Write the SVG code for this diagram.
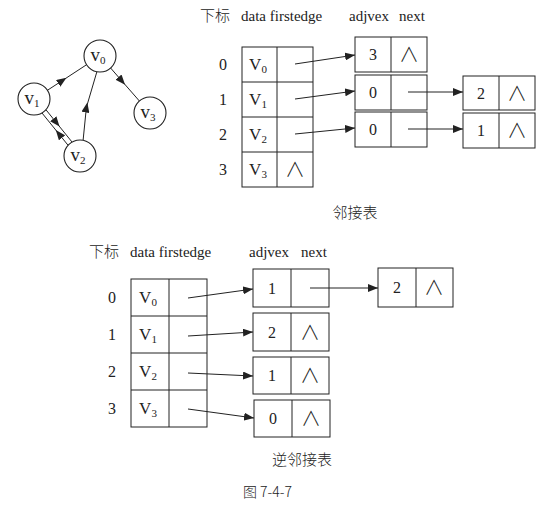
<svg xmlns="http://www.w3.org/2000/svg" width="552" height="505" viewBox="0 0 552 505">
<defs>
<style>
text{font-family:"Liberation Serif","Noto Sans CJK SC",serif;fill:#222;}
.h{font-size:15px;}
.zh{font-family:"Noto Sans CJK SC",sans-serif;font-weight:300;}
.n{font-size:16px;text-anchor:middle;}
.nl{font-size:20px;text-anchor:middle;font-family:"Noto Sans CJK SC",sans-serif;font-weight:300;}
.v{font-size:17px;text-anchor:middle;}
.gv{font-size:19px;text-anchor:middle;}
.s{font-size:11px;}
.cap{font-size:15px;text-anchor:middle;font-family:"Noto Sans CJK SC",sans-serif;font-weight:300;}
.box{fill:#fff;stroke:#222;stroke-width:1;}
.ln{fill:none;stroke:#222;stroke-width:1;}
.c{fill:#fff;stroke:#222;stroke-width:1.1;}
</style>
<marker id="ah" viewBox="0 0 10 8" refX="10" refY="4" markerWidth="10" markerHeight="8" markerUnits="userSpaceOnUse" orient="auto">
<path d="M0,0 L10,4 L0,8 z" fill="#222"/>
</marker>
<marker id="am" viewBox="0 0 10 8" refX="5" refY="4" markerWidth="10" markerHeight="8" markerUnits="userSpaceOnUse" orient="auto">
<path d="M0,0 L10,4 L0,8 z" fill="#222"/>
</marker>
</defs>
<rect width="552" height="505" fill="#fff"/>

<g id="graph-edges">
<path class="ln" d="M47.4,90.3 L62.3,80.6 L86.6,64.7" marker-mid="url(#am)"/>
<path class="ln" d="M110.6,68 L121.8,80.9 L139.4,101" marker-mid="url(#am)"/>
<path class="ln" d="M83.1,140.3 L86.4,107.4 L96.9,71.7" marker-mid="url(#am)"/>
<path class="ln" d="M46,109.8 L56.4,122.7 L72,142" marker-mid="url(#am)"/>
<path class="ln" d="M68,145.2 L58.9,133.9 L42,113" marker-mid="url(#am)"/>
</g>
<g id="v0"><circle class="c" cx="100" cy="56" r="16"/><text class="gv" x="98" y="61">v<tspan class="s" dy="3">0</tspan></text></g>
<g id="v1"><circle class="c" cx="34" cy="99" r="16"/><text class="gv" x="32" y="104">v<tspan class="s" dy="3">1</tspan></text></g>
<g id="v2"><circle class="c" cx="80" cy="156" r="16"/><text class="gv" x="78" y="161">v<tspan class="s" dy="3">2</tspan></text></g>
<g id="v3"><circle class="c" cx="150" cy="113" r="16"/><text class="gv" x="148" y="118">v<tspan class="s" dy="3">3</tspan></text></g>

<g id="adj-header">
<text class="h zh" x="200" y="21">下标</text>
<text class="h" x="241" y="21">data firstedge</text>
<text class="h" x="349" y="21">adjvex</text>
<text class="h" x="399" y="21">next</text>
</g>
<g id="adj-vertex-table">
<rect class="box" x="242" y="47" width="71" height="140"/>
<line class="ln" x1="277" y1="47" x2="277" y2="187"/>
<line class="ln" x1="242" y1="82" x2="313" y2="82"/>
<line class="ln" x1="242" y1="117" x2="313" y2="117"/>
<line class="ln" x1="242" y1="152" x2="313" y2="152"/>
<text class="n" x="223" y="70">0</text>
<text class="n" x="223" y="105">1</text>
<text class="n" x="223" y="140">2</text>
<text class="n" x="223" y="175">3</text>
<text class="v" x="258" y="70">V<tspan class="s" dy="3">0</tspan></text>
<text class="v" x="258" y="105">V<tspan class="s" dy="3">1</tspan></text>
<text class="v" x="258" y="140">V<tspan class="s" dy="3">2</tspan></text>
<text class="v" x="258" y="175">V<tspan class="s" dy="3">3</tspan></text>
<text class="nl" x="295" y="177">∧</text>
</g>
<g id="adj-e0"><rect class="box" x="355" y="37" width="72" height="35"/><line class="ln" x1="391" y1="37" x2="391" y2="72"/><text class="n" x="373" y="60">3</text><text class="nl" x="409" y="62">∧</text></g>
<g id="adj-e1"><rect class="box" x="355" y="75" width="72" height="35"/><line class="ln" x1="391" y1="75" x2="391" y2="110"/><text class="n" x="373" y="98">0</text></g>
<g id="adj-e2"><rect class="box" x="355" y="112" width="72" height="35"/><line class="ln" x1="391" y1="112" x2="391" y2="147"/><text class="n" x="373" y="135">0</text></g>
<g id="adj-e3"><rect class="box" x="463" y="76" width="72" height="34"/><line class="ln" x1="499" y1="76" x2="499" y2="110"/><text class="n" x="481" y="99">2</text><text class="nl" x="517" y="101">∧</text></g>
<g id="adj-e4"><rect class="box" x="463" y="113" width="72" height="35"/><line class="ln" x1="499" y1="113" x2="499" y2="148"/><text class="n" x="481" y="136">1</text><text class="nl" x="517" y="138">∧</text></g>
<text class="cap" x="355" y="218">邻接表</text>

<g id="inv-header">
<text class="h zh" x="89" y="257">下标</text>
<text class="h" x="130" y="257">data firstedge</text>
<text class="h" x="249" y="257">adjvex</text>
<text class="h" x="301" y="257">next</text>
</g>
<g id="inv-vertex-table">
<rect class="box" x="131" y="279" width="76" height="148"/>
<line class="ln" x1="169" y1="279" x2="169" y2="427"/>
<line class="ln" x1="131" y1="316" x2="207" y2="316"/>
<line class="ln" x1="131" y1="353" x2="207" y2="353"/>
<line class="ln" x1="131" y1="390" x2="207" y2="390"/>
<text class="n" x="112" y="303">0</text>
<text class="n" x="112" y="340">1</text>
<text class="n" x="112" y="377">2</text>
<text class="n" x="112" y="414">3</text>
<text class="v" x="148" y="303">V<tspan class="s" dy="3">0</tspan></text>
<text class="v" x="148" y="340">V<tspan class="s" dy="3">1</tspan></text>
<text class="v" x="148" y="377">V<tspan class="s" dy="3">2</tspan></text>
<text class="v" x="148" y="414">V<tspan class="s" dy="3">3</tspan></text>
</g>
<g id="inv-e0"><rect class="box" x="253" y="269" width="76" height="38"/><line class="ln" x1="291" y1="269" x2="291" y2="307"/><text class="n" x="272" y="294">1</text></g>
<g id="inv-e1"><rect class="box" x="253" y="313" width="76" height="38"/><line class="ln" x1="291" y1="313" x2="291" y2="351"/><text class="n" x="272" y="338">2</text><text class="nl" x="310" y="340">∧</text></g>
<g id="inv-e2"><rect class="box" x="253" y="357" width="76" height="37"/><line class="ln" x1="291" y1="357" x2="291" y2="394"/><text class="n" x="272" y="381">1</text><text class="nl" x="310" y="383">∧</text></g>
<g id="inv-e3"><rect class="box" x="254" y="400" width="76" height="37"/><line class="ln" x1="292" y1="400" x2="292" y2="437"/><text class="n" x="273" y="424">0</text><text class="nl" x="311" y="426">∧</text></g>
<g id="inv-e4"><rect class="box" x="378" y="268" width="75" height="39"/><line class="ln" x1="416" y1="268" x2="416" y2="307"/><text class="n" x="397" y="293">2</text><text class="nl" x="434" y="295">∧</text></g>
<text class="cap" x="302" y="465">逆邻接表</text>
<text class="zh" x="243" y="497" style="font-size:14px">图 7-4-7</text>

<g id="connectors">
<line class="ln" x1="295" y1="64" x2="355" y2="55" marker-end="url(#ah)"/>
<line class="ln" x1="295" y1="99" x2="355" y2="91" marker-end="url(#ah)"/>
<line class="ln" x1="295" y1="134" x2="355" y2="128" marker-end="url(#ah)"/>
<line class="ln" x1="408" y1="92" x2="463" y2="92" marker-end="url(#ah)"/>
<line class="ln" x1="408" y1="129" x2="463" y2="129" marker-end="url(#ah)"/>
<line class="ln" x1="188" y1="298" x2="253" y2="289" marker-end="url(#ah)"/>
<line class="ln" x1="188" y1="336" x2="253" y2="332" marker-end="url(#ah)"/>
<line class="ln" x1="188" y1="373" x2="253" y2="376" marker-end="url(#ah)"/>
<line class="ln" x1="188" y1="409" x2="254" y2="418" marker-end="url(#ah)"/>
<line class="ln" x1="310" y1="288" x2="378" y2="288" marker-end="url(#ah)"/>
</g>
</svg>
